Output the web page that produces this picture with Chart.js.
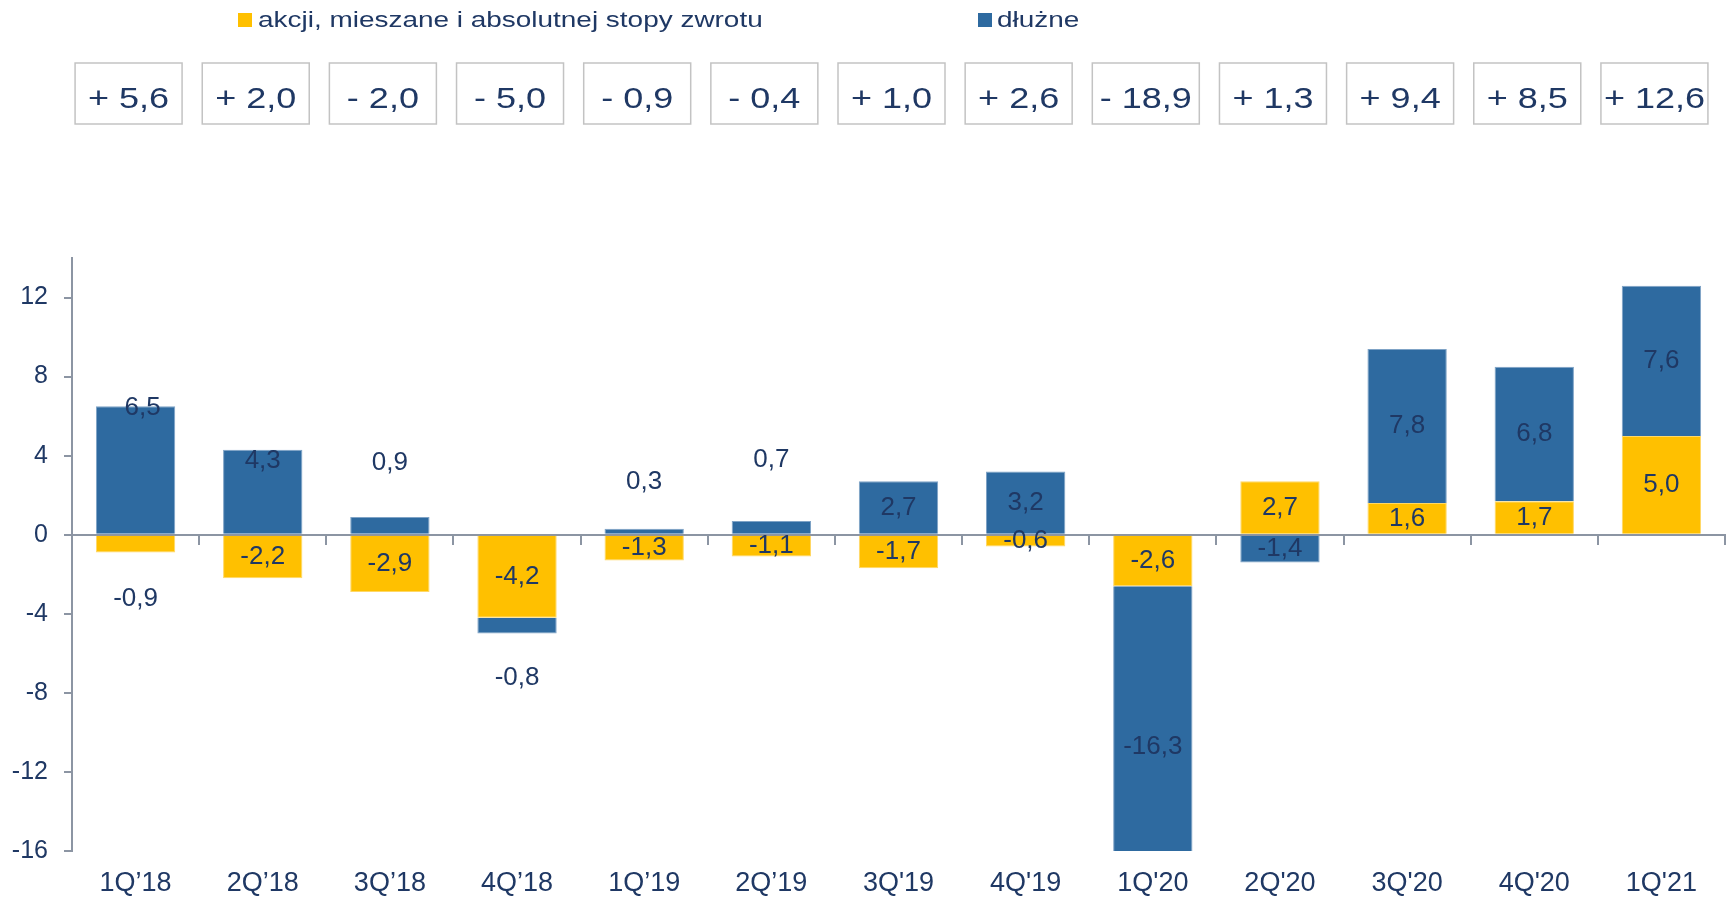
<!DOCTYPE html>
<html>
<head>
<meta charset="utf-8">
<script src="https://cdn.jsdelivr.net/npm/chart.js@4"></script>
<style>
html,body{margin:0;padding:0;background:#fff;}
#wrap{width:1735px;height:897px;position:relative;}
</style>
</head>
<body>
<div id="wrap"><canvas id="c"></canvas></div>
<script>
// ---- data ----
const categories = ['1Q’18','2Q’18','3Q’18','4Q’18','1Q’19','2Q’19',"3Q'19","4Q'19","1Q'20","2Q'20","3Q'20","4Q'20","1Q'21"];
const equityValues = [-0.9,-2.2,-2.9,-4.2,-1.3,-1.1,-1.7,-0.6,-2.6,2.7,1.6,1.7,5.0];
const debtValues   = [6.5,4.3,0.9,-0.8,0.3,0.7,2.7,3.2,-16.3,-1.4,7.8,6.8,7.6];
const totals       = [5.6,2.0,-2.0,-5.0,-0.9,-0.4,1.0,2.6,-18.9,1.3,9.4,8.5,12.6];
const seriesNames  = ['akcji, mieszane i absolutnej stopy zwrotu','dłużne'];
const yTickValues  = [-16,-12,-8,-4,0,4,8,12];

// ---- style ----
const NAVY = '#1F3864';
const AXIS = '#8C95A3';
const YELLOW = '#FFC000';
const BLUE = '#2E6AA0';
const FONT = '"Liberation Sans", Arial, sans-serif';

// label offsets [dx, dy] (px) relative to bar end for labels not centred in their segment
const labelEndOffsets = {'0-0':[0,46],'1-0':[7,2],'1-1':[0,11],'1-2':[0,-54],'1-3':[0,44],'1-4':[0,-47],'1-5':[0,-61]};

function fmt(v){ return v.toFixed(1).replace('.',','); }

const overlay = {
  id:'overlay',
  afterDraw(chart){
    const ctx = chart.ctx;
    const xs = chart.scales.x;
    ctx.save();
    // legend
    const leg = [{c:YELLOW, sx:238, tx:258, t:seriesNames[0]},{c:BLUE, sx:978, tx:997, t:seriesNames[1]}];
    ctx.font = '22px ' + FONT;
    ctx.textBaseline = 'alphabetic';
    ctx.textAlign = 'left';
    leg.forEach(l=>{
      ctx.fillStyle = l.c;
      ctx.fillRect(l.sx, 13, 14, 14);
      ctx.save();
      ctx.translate(l.tx, 27);
      ctx.scale(1.27,1);
      ctx.fillStyle = NAVY;
      ctx.fillText(l.t, 0, 0);
      ctx.restore();
    });
    // total boxes
    ctx.font = '30px ' + FONT;
    ctx.textAlign = 'center';
    totals.forEach((v,i)=>{
      const cx = xs.getPixelForValue(i) - 7;
      ctx.strokeStyle = '#C3C3C3';
      ctx.lineWidth = 1.5;
      ctx.strokeRect(cx-53.5, 63, 107, 61);
      const txt = (v>=0?'+ ':'- ') + fmt(Math.abs(v));
      ctx.save();
      ctx.translate(cx, 108);
      ctx.scale(1.2,1);
      ctx.fillStyle = NAVY;
      ctx.fillText(txt, 0, 0);
      ctx.restore();
    });
    ctx.restore();
  },
  afterDatasetsDraw(chart){
    const ctx = chart.ctx;
    ctx.save();
    ctx.font = '26px ' + FONT;
    ctx.fillStyle = NAVY;
    ctx.textAlign = 'center';
    ctx.textBaseline = 'middle';
    chart.data.datasets.forEach((ds,d)=>{
      const meta = chart.getDatasetMeta(d);
      meta.data.forEach((el,i)=>{
        const key = d+'-'+i;
        let x = el.x, y;
        if (key in labelEndOffsets) { x += labelEndOffsets[key][0]; y = el.y + labelEndOffsets[key][1]; }
        else y = (el.y + el.base)/2;
        ctx.fillText(fmt(ds.data[i]), x, y);
      });
    });
    ctx.restore();
  }
};

new Chart(document.getElementById('c'), {
  type:'bar',
  data:{
    labels:categories,
    datasets:[
      {label:seriesNames[0], data:equityValues, backgroundColor:YELLOW, borderColor:'#FFD866', borderWidth:1, borderSkipped:'start', stack:'s'},
      {label:seriesNames[1], data:debtValues, backgroundColor:BLUE, borderColor:'#7FA3C6', borderWidth:1, borderSkipped:'start', stack:'s'}
    ]
  },
  options:{
    responsive:true,
    maintainAspectRatio:false,
    animation:false,
    devicePixelRatio:1,
    layout:{padding:{top:258,right:10,bottom:0,left:0}},
    datasets:{bar:{categoryPercentage:1, barPercentage:0.624}},
    plugins:{legend:{display:false}, tooltip:{enabled:false}},
    scales:{
      x:{
        type:'category', stacked:true, position:{y:0}, offset:true,
        ticks:{display:false},
        grid:{display:true, drawOnChartArea:false, offset:true, tickLength:9, color:AXIS, lineWidth:2},
        border:{display:true, color:AXIS, width:2}
      },
      x2:{
        type:'category', position:'bottom', labels:categories, offset:true,
        grid:{display:false, drawTicks:false},
        border:{display:false},
        ticks:{color:NAVY, font:{family:FONT, size:27, lineHeight:1.2}, padding:16, maxRotation:0, autoSkip:false},
        afterFit(s){ s.height = 46; }
      },
      y:{
        stacked:true, min:-16, max:14,
        ticks:{stepSize:4, color:NAVY, font:{family:FONT, size:25}, padding:16},
        afterBuildTicks(s){ s.ticks = yTickValues.map(v=>({value:v})); },
        afterFit(s){ s.width = 72; },
        grid:{drawOnChartArea:false, tickLength:8, color:AXIS, lineWidth:2},
        border:{display:true, color:AXIS, width:2}
      }
    }
  },
  plugins:[overlay]
});
</script>
</body>
</html>
